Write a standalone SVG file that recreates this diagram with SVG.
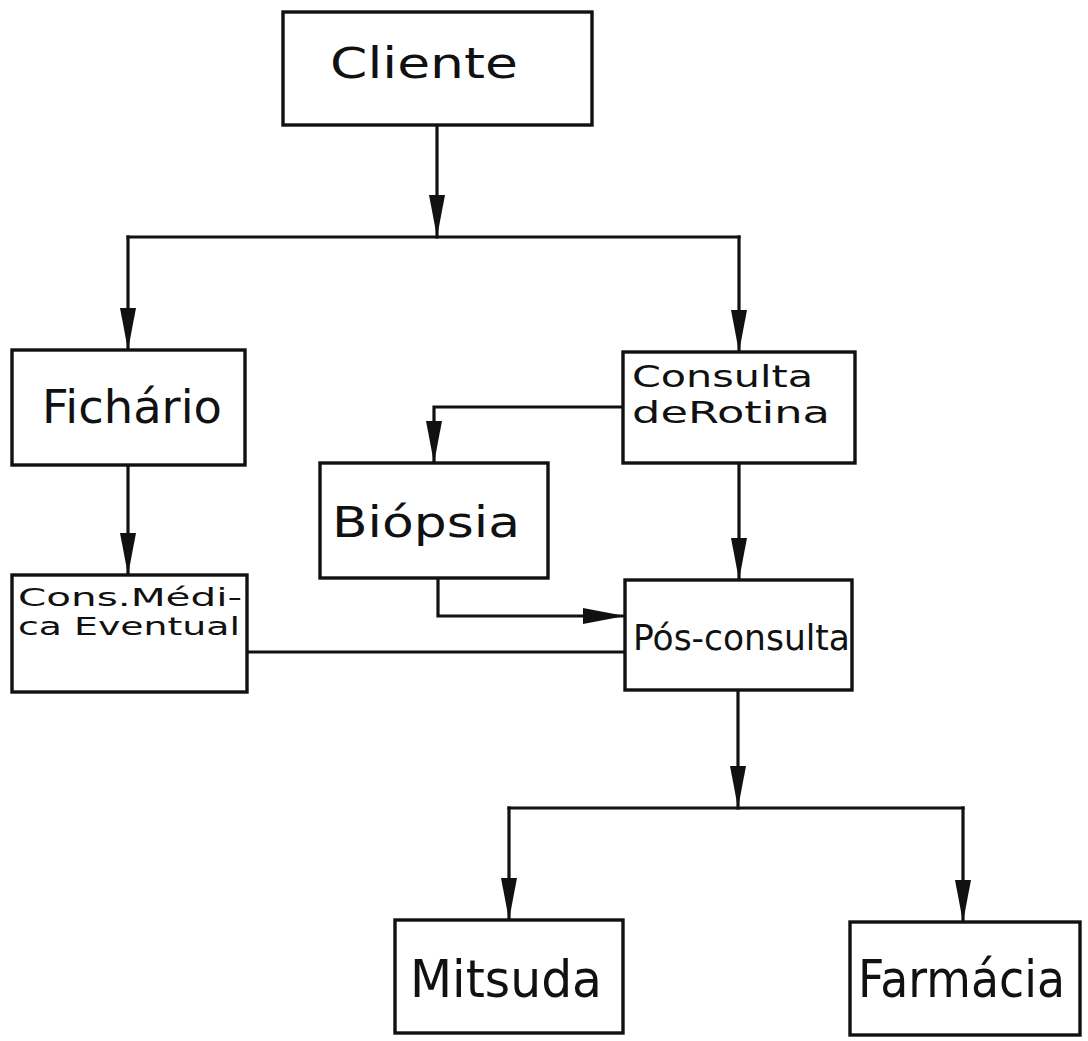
<svg xmlns="http://www.w3.org/2000/svg" width="1088" height="1041" viewBox="0 0 1088 1041">
  <style>
    .box { fill: #ffffff; stroke: #111111; stroke-width: 3.4; stroke-linejoin: miter; }
    .wire { fill: none; stroke: #111111; stroke-width: 3.2; stroke-linecap: square; }
    .lbl { font-family: "DejaVu Sans", "Noto Sans", sans-serif; fill: #111111; }
  </style>
  <defs>
    <!-- long, narrow hand-drawn style arrowhead -->
    <marker id="head" viewBox="0 0 42 16" refX="42" refY="8" markerWidth="42" markerHeight="16" markerUnits="userSpaceOnUse" orient="auto">
      <path d="M0,0 L42,8 L0,16 Z" fill="#111111"/>
    </marker>
  </defs>
  <rect width="1088" height="1041" fill="#ffffff"/>

  <g id="connectors">
    <path class="wire" d="M437,125 V237" marker-end="url(#head)"/>
    <path class="wire" d="M128,237 H739"/>
    <path class="wire" d="M128,237 V350" marker-end="url(#head)"/>
    <path class="wire" d="M739,237 V352" marker-end="url(#head)"/>
    <path class="wire" d="M128,465 V575" marker-end="url(#head)"/>
    <path class="wire" d="M247,652 H625"/>
    <path class="wire" d="M623,407 H434 V463" marker-end="url(#head)"/>
    <path class="wire" d="M438,578 V616 H625" marker-end="url(#head)"/>
    <path class="wire" d="M739,463 V580" marker-end="url(#head)"/>
    <path class="wire" d="M738,690 V808" marker-end="url(#head)"/>
    <path class="wire" d="M509,808 H963"/>
    <path class="wire" d="M509,808 V920" marker-end="url(#head)"/>
    <path class="wire" d="M963,808 V922" marker-end="url(#head)"/>
  </g>

  <g id="cliente">
    <rect class="box" x="283" y="12" width="309" height="113"/>
    <text class="lbl" x="330" y="78" font-size="43" textLength="188" lengthAdjust="spacingAndGlyphs">Cliente</text>
  </g>

  <g id="fichario">
    <rect class="box" x="12" y="350" width="233" height="115"/>
    <text class="lbl" x="42" y="423" font-size="47" textLength="180" lengthAdjust="spacingAndGlyphs">Fichário</text>
  </g>

  <g id="cons-medica-eventual">
    <rect class="box" x="12" y="575" width="235" height="117"/>
    <text class="lbl" x="18" y="606" font-size="25" textLength="224" lengthAdjust="spacingAndGlyphs">Cons.Médi-</text>
    <text class="lbl" x="18" y="635" font-size="25" textLength="222" lengthAdjust="spacingAndGlyphs">ca Eventual</text>
  </g>

  <g id="consulta-de-rotina">
    <rect class="box" x="623" y="352" width="232" height="111"/>
    <text class="lbl" x="632" y="387" font-size="31" textLength="181" lengthAdjust="spacingAndGlyphs">Consulta</text>
    <text class="lbl" x="632" y="423" font-size="30" textLength="198" lengthAdjust="spacingAndGlyphs">deRotina</text>
  </g>

  <g id="biopsia">
    <rect class="box" x="320" y="463" width="228" height="115"/>
    <text class="lbl" x="332" y="537" font-size="42" textLength="188" lengthAdjust="spacingAndGlyphs">Biópsia</text>
  </g>

  <g id="pos-consulta">
    <rect class="box" x="625" y="580" width="227" height="110"/>
    <text class="lbl" x="633" y="650" font-size="36" textLength="217" lengthAdjust="spacingAndGlyphs">Pós-consulta</text>
  </g>

  <g id="mitsuda">
    <rect class="box" x="395" y="920" width="228" height="113"/>
    <text class="lbl" x="410" y="997" font-size="52" textLength="192" lengthAdjust="spacingAndGlyphs">Mitsuda</text>
  </g>

  <g id="farmacia">
    <rect class="box" x="850" y="922" width="230" height="113"/>
    <text class="lbl" x="858" y="997" font-size="51" textLength="207" lengthAdjust="spacingAndGlyphs">Farmácia</text>
  </g>
</svg>
